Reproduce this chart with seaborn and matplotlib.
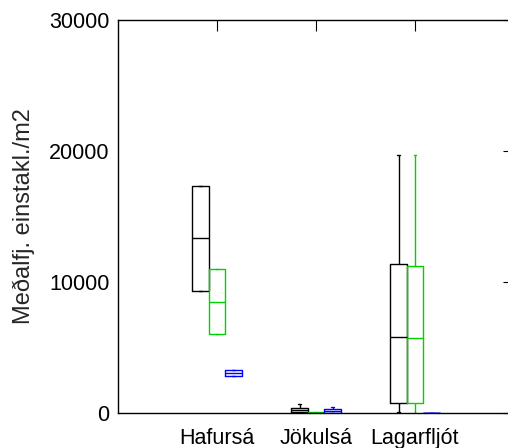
import numpy as np
import pandas as pd
import matplotlib
matplotlib.use("Agg")
import matplotlib.pyplot as plt
import seaborn as sns

# Rivers on the x axis
rivers = ["Hafursá", "Jökulsá", "Lagarfljót"]
# Sample groups (hue)
groups = ["A", "B", "C"]

# Five-number summaries per river: (min, Q1, median, Q3, max), individuals/m2
group_a = [
    (9340, 9340, 13340, 17350, 17350),
    (0, 50, 230, 400, 710),
    (100, 790, 5830, 11370, 19720),
]
group_b = [
    (6000, 6000, 8470, 10990, 10990),
    (0, 0, 20, 60, 60),
    (20, 760, 5750, 11250, 19720),
]
group_c = [
    (2850, 2850, 3050, 3260, 3260),
    (0, 0, 150, 280, 430),
    (0, 0, 0, 10, 10),
]

colors = ["#000000", "#00d200", "#0000ff"]

ylabel = "Meðalfj. einstakl./m2"
yticks = [0, 10000, 20000, 30000]

# Long-form table: five points per box reproduce the summaries exactly
rows = []
for g, summaries in zip(groups, [group_a, group_b, group_c]):
    for river, s in zip(rivers, summaries):
        for v in s:
            rows.append({"river": river, "group": g, "value": v})
df = pd.DataFrame(rows)

sns.set_style("white")
plt.rcParams["font.family"] = ["Liberation Sans", "DejaVu Sans"]

fig = plt.figure(figsize=(5.08, 4.48), dpi=100)
ax = fig.add_axes([118 / 508, 35 / 448, 396 / 508, 393 / 448])

sns.boxplot(
    data=df, x="river", y="value", hue="group",
    order=rivers, hue_order=groups, palette=colors,
    fill=False, width=0.5, gap=0, whis=np.inf, linewidth=1.0,
    legend=False, ax=ax, capwidths=0.03,
)

ax.set_xlim(-1, 3)
ax.set_ylim(0, 30000)
ax.set_yticks(yticks)
ax.set_yticklabels([str(t) for t in yticks])
ax.set_xlabel("")
ax.set_ylabel(ylabel, fontsize=17, labelpad=10)
ax.tick_params(axis="both", direction="in", top=True, right=True,
               length=8, width=0.8, labelsize=15.5, colors="black")
ax.tick_params(axis="x", pad=11)
ax.tick_params(axis="y", pad=6)
for sp in ax.spines.values():
    sp.set_visible(True)
    sp.set_color("black")
    sp.set_linewidth(1.0)

fig.savefig("out.png", dpi=100)
